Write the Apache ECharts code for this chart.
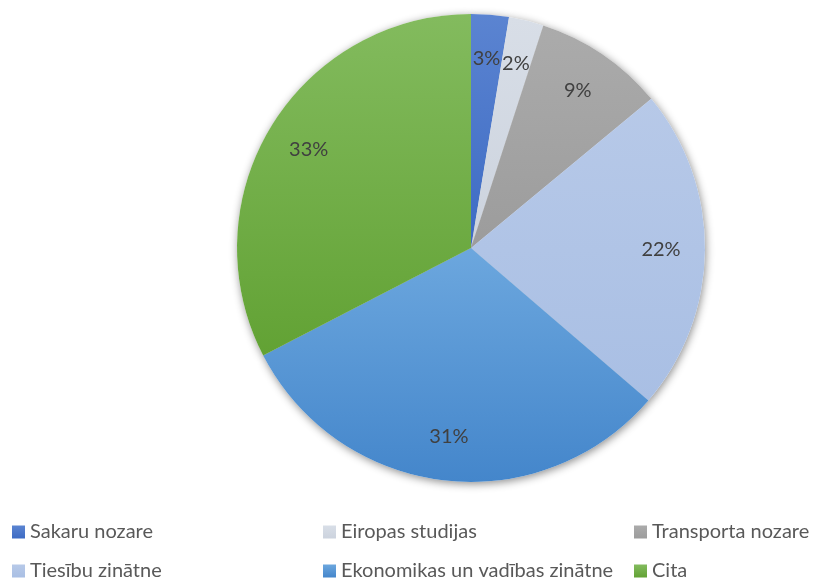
<!DOCTYPE html>
<html>
<head>
<meta charset="utf-8">
<script src="https://cdn.jsdelivr.net/npm/echarts@6/dist/echarts.min.js"></script>
<style>
  html, body { margin: 0; padding: 0; background: #fff; }
  #chart { width: 821px; height: 581px; }
</style>
</head>
<body>
<div id="chart"></div>
<script>
// sector shares (percent)
const categories = ['Sakaru nozare', 'Eiropas studijas', 'Transporta nozare', 'Tiesību zinātne', 'Ekonomikas un vadības zinātne', 'Cita'];
const values = [2.6, 2.4, 9.0, 22.3, 31.1, 32.6];

// gradient fills (top -> bottom), Office style
const topColors = ['#5b84d1', '#d8dee7', '#ababab', '#b7c9e8', '#6ca7de', '#83bb5e'];
const bottomColors = ['#3d6bc4', '#ccd3de', '#9c9c9c', '#a9bfe4', '#4486cb', '#62a234'];

const grad = (i) => new echarts.graphic.LinearGradient(0, 0, 0, 1, [
  { offset: 0, color: topColors[i] },
  { offset: 1, color: bottomColors[i] },
]);

const chart = echarts.init(document.getElementById('chart'));

const center = [471, 248];
const R = 234;
const fontFamily = 'Lato, "Open Sans", sans-serif';

// legend columns: Excel lays items out in a 3 x 2 grid
const legendCols = [[0, 3], [1, 4], [2, 5]];
const legendLeft = [12, 323, 634];

const option = {
  animation: false,
  legend: legendCols.map((col, k) => ({
    orient: 'vertical',
    left: legendLeft[k],
    top: 522,
    height: 120,
    padding: 0,
    itemWidth: 13,
    itemHeight: 13,
    itemGap: 19,
    icon: 'rect',
    selectedMode: false,
    textStyle: { fontFamily, fontSize: 20, color: '#595959', padding: [0, 0, 0, 0] },
    data: col.map((i) => ({ name: categories[i], itemStyle: { color: grad(i) } })),
  })),
  series: [
    // backing copy that casts the soft drop shadow
    {
      type: 'pie',
      center,
      radius: R,
      startAngle: 90,
      silent: true,
      z: 1,
      label: { show: false },
      labelLine: { show: false },
      itemStyle: {
        color: '#fff',
        shadowBlur: 8,
        shadowColor: 'rgba(0,0,0,0.45)',
        shadowOffsetX: 1,
        shadowOffsetY: 2,
      },
      data: categories.map((name, i) => ({ name: name + ' ', value: values[i] })),
    },
    {
      type: 'pie',
      center,
      radius: R,
      startAngle: 90,
      z: 2,
      label: { show: false },
      labelLine: { show: false },
      itemStyle: { borderWidth: 0 },
      data: categories.map((name, i) => ({
        name,
        value: values[i],
        itemStyle: { color: grad(i) },
      })),
    },
    // transparent wider ring so the inside labels land near 0.8 R like Excel does
    {
      type: 'pie',
      center,
      radius: Math.round(R * 1.6),
      startAngle: 90,
      silent: true,
      z: 3,
      itemStyle: { color: 'rgba(0,0,0,0)' },
      label: {
        show: true,
        position: 'inside',
        fontFamily,
        fontSize: 20,
        color: '#404040',
        formatter: (p) => Math.round(p.percent) + '%',
      },
      labelLine: { show: false },
      data: categories.map((name, i) => ({ name: name + '  ', value: values[i] })),
    },
  ],
};

chart.setOption(option);
</script>
</body>
</html>
